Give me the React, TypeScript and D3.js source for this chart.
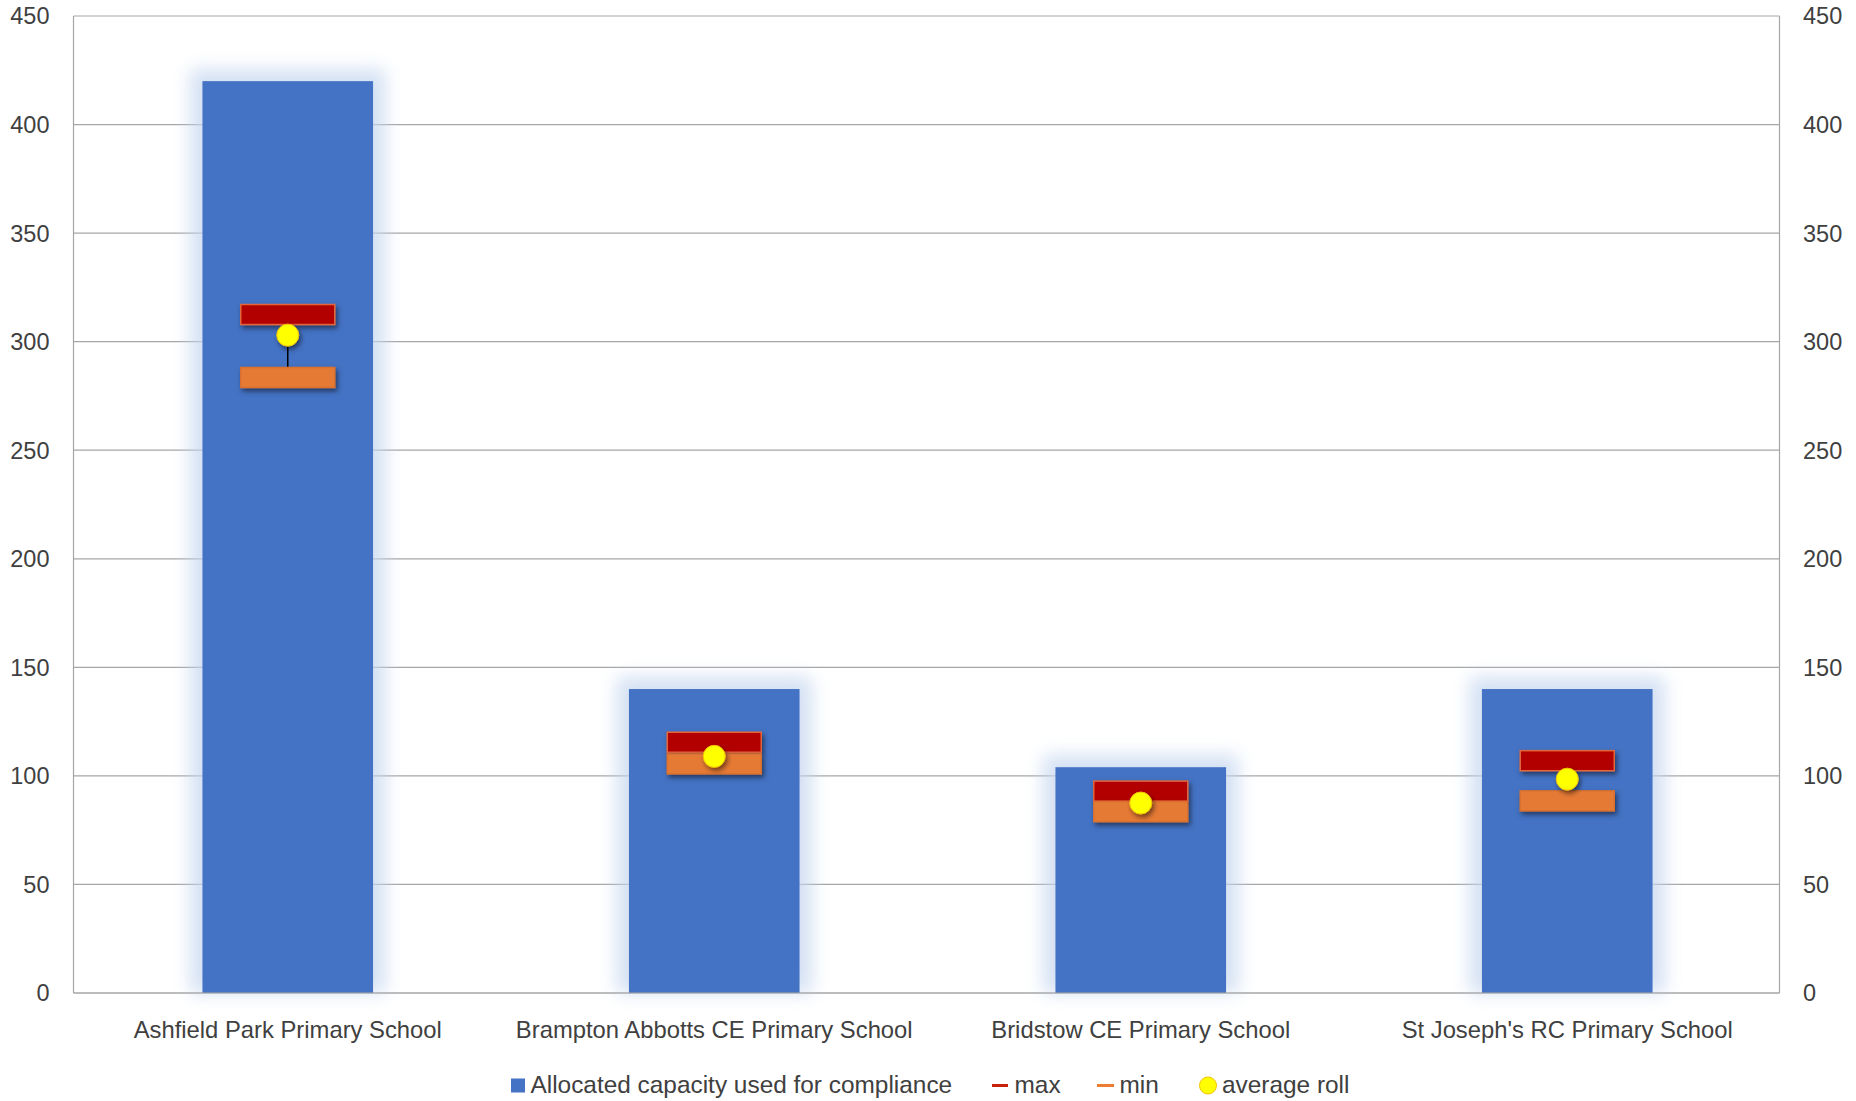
import React, { useEffect } from "react";
import * as d3 from "d3";

const schools = [
  "Ashfield Park Primary School",
  "Brampton Abbotts CE Primary School",
  "Bridstow CE Primary School",
  "St Joseph's RC Primary School",
];
const capacity = [420, 140, 104, 140];
const maxRoll = [312.5, 115.5, 93, 107];
const minRoll = [283.5, 105.5, 83.5, 88.5];
const avgRoll = [303, 109, 87.5, 98.5];
const yTicks = [0, 50, 100, 150, 200, 250, 300, 350, 400, 450];

const W = 1856;
const H = 1101;
const M = { left: 73.5, right: 1779.5, top: 16, bottom: 993 };
const FONT = "'Liberation Sans', Arial, sans-serif";
const TXT = "#404040";
const GRID = "#a6a6a6";

export default function App() {
  useEffect(() => {
    document.body.style.margin = "0";
  }, []);

  const x = d3
    .scaleBand<string>()
    .domain(schools)
    .range([M.left, M.right])
    .paddingInner(0)
    .paddingOuter(0);
  const y = d3.scaleLinear().domain([0, 450]).range([M.bottom, M.top]);
  const step = x.step();
  const barW = step * 0.4;
  const markW = 94;
  const markH = 20;
  const cx = (s: string) => (x(s) as number) + step / 2 + 1;

  return (
    <svg
      width={W}
      height={H}
      style={{ position: "absolute", left: 0, top: 0, background: "#fff" }}
      fontFamily={FONT}
    >
      <defs>
        <filter id="glow" x="-50%" y="-50%" width="200%" height="200%">
          <feGaussianBlur stdDeviation="9" />
        </filter>
        <filter id="shadow" x="-30%" y="-60%" width="160%" height="260%">
          <feDropShadow dx="2" dy="3" stdDeviation="2.5" floodColor="#000" floodOpacity="0.5" />
        </filter>
      </defs>
      <rect x={0} y={0} width={W} height={H} fill="#fff" />

      {/* gridlines */}
      {yTicks.map((t) => (
        <line
          key={"g" + t}
          x1={M.left}
          x2={M.right}
          y1={y(t)}
          y2={y(t)}
          stroke={GRID}
          strokeWidth={1.2}
        />
      ))}
      {/* frame */}
      <line x1={M.left} x2={M.left} y1={M.top} y2={M.bottom} stroke={GRID} strokeWidth={1.2} />
      <line x1={M.right} x2={M.right} y1={M.top} y2={M.bottom} stroke={GRID} strokeWidth={1.2} />

      {/* bar glow */}
      {schools.map((s, i) => (
        <rect
          key={"gl" + s}
          x={cx(s) - barW / 2 - 12}
          y={y(capacity[i]) - 12}
          width={barW + 24}
          height={y(0) - y(capacity[i]) + 12}
          fill="#c4d6ef"
          opacity={0.75}
          filter="url(#glow)"
        />
      ))}
      {/* bars */}
      {schools.map((s, i) => (
        <rect
          key={"b" + s}
          x={cx(s) - barW / 2}
          y={y(capacity[i])}
          width={barW}
          height={y(0) - y(capacity[i])}
          fill="#4472C4"
        />
      ))}
      <line x1={M.left} x2={M.right} y1={y(0)} y2={y(0)} stroke={GRID} strokeWidth={1.2} />

      {/* high-low lines */}
      {schools.map((s, i) => (
        <line
          key={"hl" + s}
          x1={cx(s)}
          x2={cx(s)}
          y1={y(maxRoll[i])}
          y2={y(minRoll[i])}
          stroke="#000"
          strokeWidth={1.5}
        />
      ))}
      {/* max markers */}
      {schools.map((s, i) => (
        <rect
          key={"mx" + s}
          x={cx(s) - markW / 2}
          y={y(maxRoll[i]) - markH / 2}
          width={markW}
          height={markH}
          fill="#B20000"
          stroke="#E2663A"
          strokeWidth={1.5}
          filter="url(#shadow)"
        />
      ))}
      {/* min markers */}
      {schools.map((s, i) => (
        <rect
          key={"mn" + s}
          x={cx(s) - markW / 2}
          y={y(minRoll[i]) - markH / 2}
          width={markW}
          height={markH}
          fill="#E57A35"
          stroke="#D9702E"
          strokeWidth={1.5}
          filter="url(#shadow)"
        />
      ))}
      {/* avg markers */}
      {schools.map((s, i) => (
        <circle
          key={"av" + s}
          cx={cx(s)}
          cy={y(avgRoll[i])}
          r={11}
          fill="#FFFF00"
          stroke="#F2C200"
          strokeWidth={1}
          filter="url(#shadow)"
        />
      ))}

      {/* left axis labels */}
      {yTicks.map((t) => (
        <text
          key={"l" + t}
          x={49.5}
          y={y(t)}
          dy="0.36em"
          textAnchor="end"
          fontSize={23.5}
          fill={TXT}
        >
          {t}
        </text>
      ))}
      {/* right axis labels */}
      {yTicks.map((t) => (
        <text
          key={"r" + t}
          x={1803}
          y={y(t)}
          dy="0.36em"
          textAnchor="start"
          fontSize={23.5}
          fill={TXT}
        >
          {t}
        </text>
      ))}
      {/* category labels */}
      {schools.map((s) => (
        <text
          key={"c" + s}
          x={cx(s)}
          y={1037.5}
          textAnchor="middle"
          fontSize={23.8}
          fill={TXT}
        >
          {s}
        </text>
      ))}

      {/* legend */}
      <g fontSize={24.4} fill={TXT}>
        <rect x={511} y={1078.5} width={14} height={14} fill="#4472C4" />
        <text x={530.5} y={1093.3}>Allocated capacity used for compliance</text>
        <line x1={992} x2={1008} y1={1085.5} y2={1085.5} stroke="#C8200A" strokeWidth={3} />
        <text x={1014.5} y={1093.3}>max</text>
        <line x1={1097} x2={1114} y1={1085.5} y2={1085.5} stroke="#ED7D31" strokeWidth={3} />
        <text x={1119.5} y={1093.3}>min</text>
        <circle cx={1208} cy={1085.5} r={8.5} fill="#FFFF00" stroke="#F2C200" strokeWidth={1} />
        <text x={1222} y={1093.3}>average roll</text>
      </g>
    </svg>
  );
}
